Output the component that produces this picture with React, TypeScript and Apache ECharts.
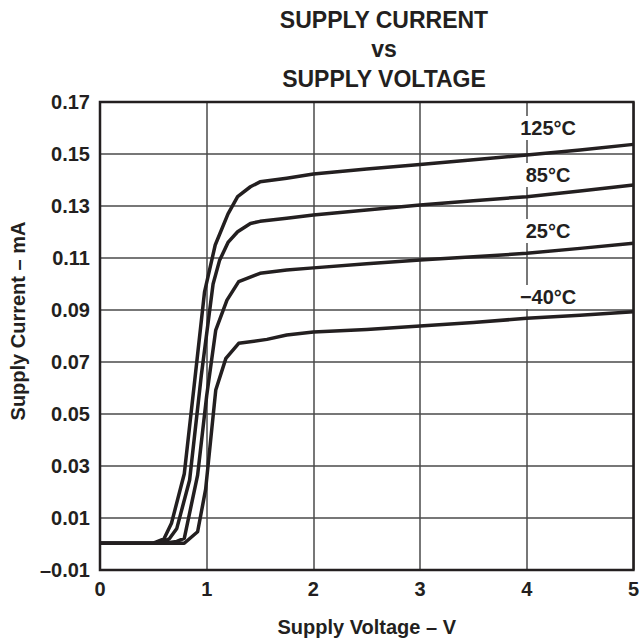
import React, { useEffect, useRef } from "react";
import * as echarts from "echarts";

const titleLines = ["SUPPLY CURRENT", "vs", "SUPPLY VOLTAGE"];
const xTicks = [0, 1, 2, 3, 4, 5];
const yTicks = [-0.01, 0.01, 0.03, 0.05, 0.07, 0.09, 0.11, 0.13, 0.15, 0.17];

const seriesNames = ["125°C", "85°C", "25°C", "−40°C"];

const v125 = [0, 0.5, 0.6, 0.67, 0.79, 0.88, 0.98, 1.08, 1.2, 1.29, 1.41, 1.5, 1.75, 2, 2.5, 3, 3.5, 4, 4.5, 5];
const i125 = [0.0003, 0.0003, 0.002, 0.008, 0.027, 0.06, 0.097, 0.115, 0.127, 0.1336, 0.1374, 0.1393, 0.1407, 0.1423, 0.1442, 0.146, 0.1478, 0.1496, 0.1515, 0.1537];

const v85 = [0, 0.55, 0.65, 0.72, 0.84, 0.95, 1.06, 1.12, 1.2, 1.29, 1.41, 1.5, 1.75, 2, 2.5, 3, 3.5, 4, 4.5, 5];
const i85 = [0.0003, 0.0003, 0.002, 0.006, 0.0246, 0.065, 0.1, 0.109, 0.116, 0.1201, 0.1233, 0.1241, 0.1253, 0.1265, 0.1285, 0.1304, 0.132, 0.1336, 0.1358, 0.1381];

const v25 = [0, 0.6, 0.72, 0.79, 0.915, 1.0, 1.085, 1.19, 1.3, 1.5, 1.75, 2, 2.5, 3, 3.5, 4, 4.5, 5];
const i25 = [0.0003, 0.0003, 0.001, 0.0022, 0.0265, 0.057, 0.0823, 0.0938, 0.1009, 0.1041, 0.1054, 0.1062, 0.1078, 0.1092, 0.1105, 0.1118, 0.1137, 0.1157];

const vm40 = [0, 0.79, 0.915, 0.99, 1.085, 1.18, 1.3, 1.565, 1.75, 2, 2.5, 3, 3.5, 4, 4.5, 5];
const im40 = [0.0003, 0.0003, 0.0047, 0.021, 0.0592, 0.0714, 0.0772, 0.0787, 0.0804, 0.0815, 0.0825, 0.0838, 0.0852, 0.0868, 0.088, 0.0893];

// label anchor positions in data units (voltage, current)
const labelV = [4.2, 4.2, 4.2, 4.2];
const labelI = [0.16, 0.1419, 0.1204, 0.095];

const FONT = "'Liberation Sans', Arial, Helvetica, sans-serif";
const INK = "#231f20";

export default function App() {
  const ref = useRef<HTMLDivElement>(null);
  useEffect(() => {
    if (!ref.current) return;
    const chart = echarts.init(ref.current, undefined, { renderer: "svg" });
    const xs = [v125, v85, v25, vm40];
    const ys = [i125, i85, i25, im40];
    const series = seriesNames.map((name, k) => ({
      name,
      type: "line",
      data: xs[k].map((v, j) => [v, ys[k][j]]),
      showSymbol: false,
      symbol: "none",
      lineStyle: { color: INK, width: 3.5, join: "round" },
      z: 3,
      markPoint: {
        symbol: "rect",
        symbolSize: 0,
        data: [{ coord: [labelV[k], labelI[k]], value: name }],
        label: {
          show: true,
          position: "inside",
          formatter: name,
          color: INK,
          fontFamily: FONT,
          fontWeight: "bold",
          fontSize: 20,
          backgroundColor: "#ffffff",
          padding: [2, 1, 2, 1],
        },
        z: 5,
      },
    }));
    chart.setOption({
      animation: false,
      backgroundColor: "#ffffff",
      title: {
        text: titleLines.join("\n"),
        left: 379,
        top: 0,
        textAlign: "center",
        textStyle: {
          fontFamily: FONT,
          fontWeight: "bold",
          fontSize: 23,
          lineHeight: 29.5,
          color: INK,
        },
      },
      grid: {
        left: 100,
        right: 3,
        top: 102,
        bottom: 73,
        show: true,
        borderColor: INK,
        borderWidth: 2.5,
        backgroundColor: "transparent",
        z: 4,
      },
      xAxis: {
        type: "value",
        min: xTicks[0],
        max: xTicks[xTicks.length - 1],
        interval: 1,
        name: "Supply Voltage – V",
        nameLocation: "middle",
        nameGap: 47,
        nameTextStyle: { fontFamily: FONT, fontWeight: "bold", fontSize: 20, color: INK },
        axisLine: { show: false },
        axisTick: { show: false },
        axisLabel: {
          margin: 9,
          fontFamily: FONT,
          fontWeight: "bold",
          fontSize: 20,
          color: INK,
          formatter: (v: number) => String(Math.round(v)),
        },
        splitLine: { show: true, lineStyle: { color: "#4a4a4a", width: 1.5 } },
      },
      yAxis: {
        type: "value",
        min: yTicks[0],
        max: yTicks[yTicks.length - 1],
        interval: 0.02,
        name: "Supply Current – mA",
        nameLocation: "middle",
        nameGap: 72,
        nameRotate: 90,
        nameTextStyle: {
          fontFamily: FONT,
          fontWeight: "bold",
          fontSize: 20,
          color: INK,
          padding: [0, 0, 0, 30],
        },
        axisLine: { show: false },
        axisTick: { show: false },
        axisLabel: {
          margin: 10,
          fontFamily: FONT,
          fontWeight: "bold",
          fontSize: 20,
          color: INK,
          formatter: (v: number) => {
            const s = (Math.round(v * 100) / 100).toFixed(2);
            return s.replace("-", "–");
          },
        },
        splitLine: { show: true, lineStyle: { color: "#4a4a4a", width: 1.5 } },
      },
      series,
    });
    return () => chart.dispose();
  }, []);
  return (
    <div
      ref={ref}
      style={{ position: "fixed", left: 0, top: 0, width: 642, height: 643 }}
    />
  );
}
